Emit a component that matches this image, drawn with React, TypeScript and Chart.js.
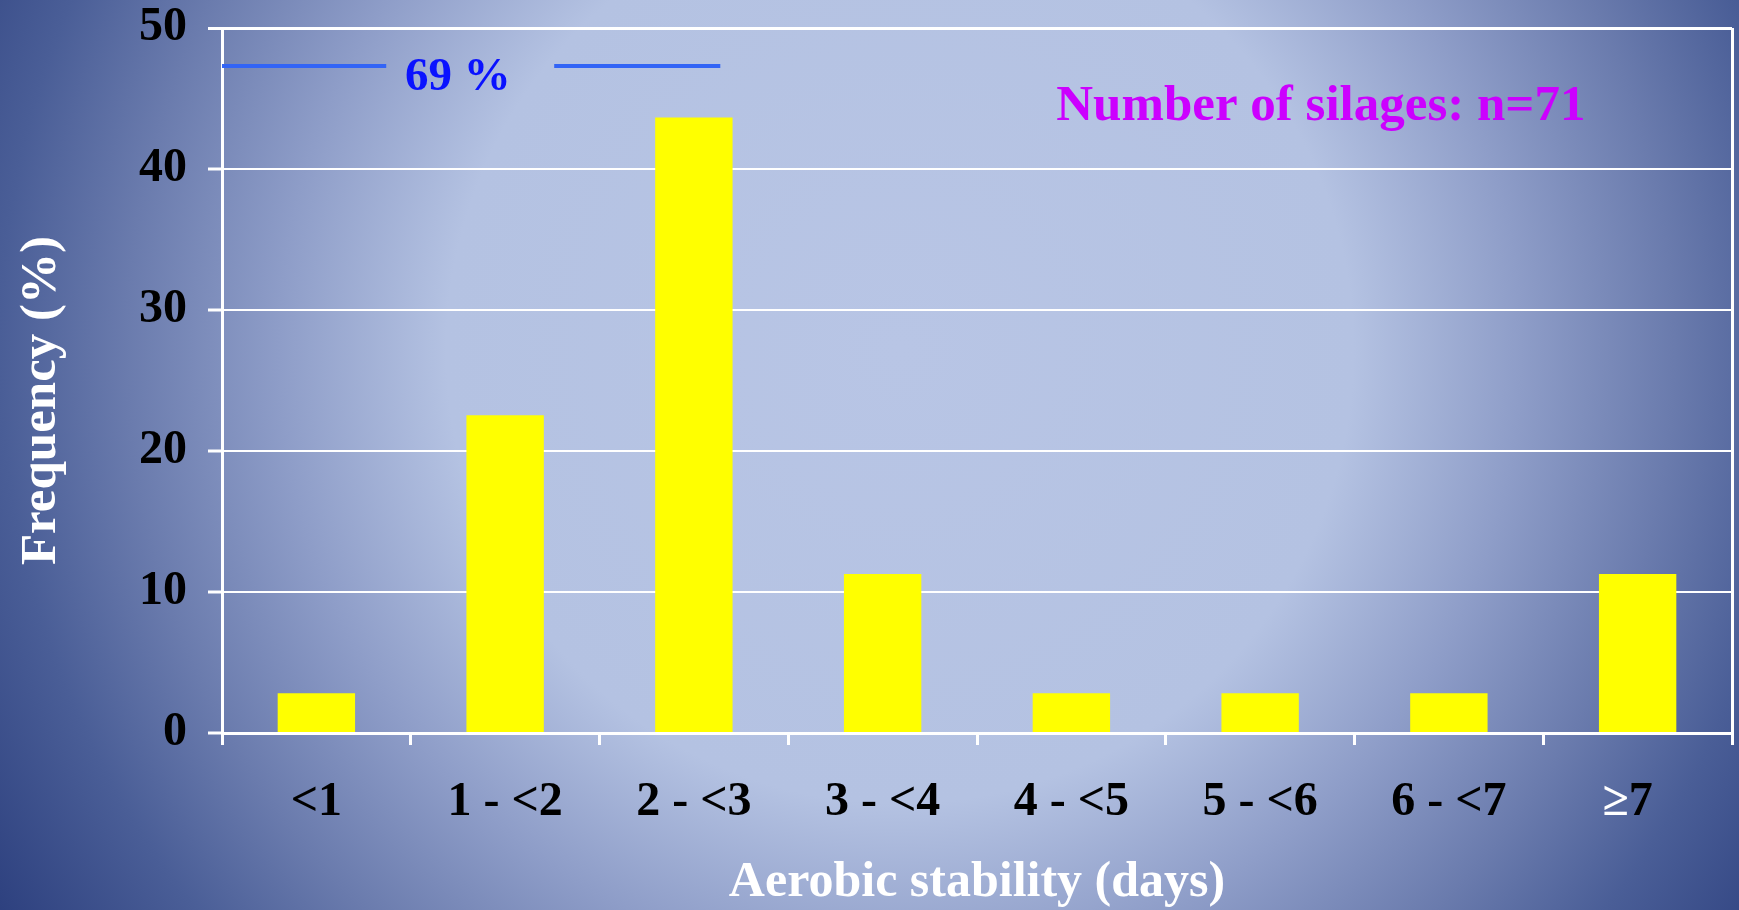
import { useEffect, useRef } from "react";
import { Chart, registerables } from "chart.js";

Chart.register(...registerables);

// Aerobic stability classes (days) and share of silages in each class (%)
const stabilityClasses = ["<1", "1 - <2", "2 - <3", "3 - <4", "4 - <5", "5 - <6", "6 - <7", "≥7"];
const frequencyPct = [2.82, 22.54, 43.66, 11.27, 2.82, 2.82, 2.82, 11.27];
const frequencyTicks = [0, 10, 20, 30, 40, 50];

// Cumulative share of the first three classes, shown as a bracket line
const shareLabel = "69 %";
const shareLevel = 47.3;

const sampleNote = "Number of silages: n=71";
const xTitle = "Aerobic stability (days)";
const yTitle = "Frequency (%)";

const W = 1739;
const H = 910;
const SERIF = '"Liberation Serif", "Times New Roman", serif';

const backgroundPlugin = {
  id: "slideBackground",
  beforeDraw(chart: any) {
    const { ctx, width, height } = chart;
    ctx.save();
    const cx = 900;
    const cy = 350;
    const g = ctx.createRadialGradient(cx, cy, 0, cx, cy, 1080);
    g.addColorStop(0, "#b8c5e5");
    g.addColorStop(0.42, "#b4c2e2");
    g.addColorStop(0.575, "#8e9dc8");
    g.addColorStop(0.717, "#6a7bad");
    g.addColorStop(0.833, "#4a5e97");
    g.addColorStop(1, "#2a3d7c");
    ctx.fillStyle = g;
    ctx.fillRect(0, 0, width, height);
    ctx.restore();
  },
};

const textPlugin = {
  id: "slideText",
  afterDraw(chart: any) {
    const { ctx } = chart;
    const x = chart.scales.x;
    const y = chart.scales.y;
    const step = (x.right - x.left) / stabilityClasses.length;
    const at = (u: number) => x.left + u * step;

    ctx.save();

    // bracket line with cumulative share
    const ly = y.getPixelForValue(shareLevel);
    ctx.strokeStyle = "#3264f6";
    ctx.lineWidth = 4;
    ctx.beginPath();
    ctx.moveTo(at(0), ly);
    ctx.lineTo(at(0.87), ly);
    ctx.moveTo(at(1.76), ly);
    ctx.lineTo(at(2.64), ly);
    ctx.stroke();

    ctx.textBaseline = "alphabetic";
    ctx.font = `bold 47px ${SERIF}`;
    ctx.fillStyle = "#0a12ff";
    ctx.textAlign = "center";
    ctx.fillText(shareLabel, at(1.25), y.getPixelForValue(45.6));

    // sample size note
    ctx.font = `bold 51px ${SERIF}`;
    ctx.fillStyle = "#cc00ff";
    ctx.textAlign = "left";
    ctx.fillText(sampleNote, at(4.42), y.getPixelForValue(43.5));

    // category labels
    ctx.font = `bold 48px ${SERIF}`;
    const base = x.top + 82;
    stabilityClasses.forEach((label, i) => {
      const cxp = x.getPixelForValue(i);
      if (label.startsWith("≥")) {
        const sign = "≥";
        const rest = label.slice(1);
        const wSign = ctx.measureText(sign).width;
        const wRest = ctx.measureText(rest).width;
        const left = cxp - (wSign + wRest) / 2 - 10;
        ctx.textAlign = "left";
        ctx.fillStyle = "#ffffff";
        ctx.fillText(sign, left, base);
        ctx.fillStyle = "#000000";
        ctx.fillText(rest, left + wSign, base);
      } else {
        ctx.textAlign = "center";
        ctx.fillStyle = "#000000";
        ctx.fillText(label, cxp, base);
      }
    });

    // axis titles
    ctx.fillStyle = "#ffffff";
    ctx.font = `bold 50px ${SERIF}`;
    ctx.textAlign = "center";
    ctx.fillText(xTitle, (x.left + x.right) / 2, 896);

    ctx.translate(55, (y.top + y.bottom) / 2 + 20);
    ctx.rotate(-Math.PI / 2);
    ctx.font = `bold 51px ${SERIF}`;
    ctx.fillText(yTitle, 0, 0);

    ctx.restore();
  },
};

export default function App() {
  const ref = useRef<HTMLCanvasElement>(null);

  useEffect(() => {
    document.body.style.margin = "0";
    document.body.style.overflow = "hidden";
    const canvas = ref.current;
    if (!canvas) return;
    const tickStep = frequencyTicks[1] - frequencyTicks[0];
    const chart = new Chart(canvas, {
      type: "bar",
      data: {
        labels: stabilityClasses,
        datasets: [
          {
            data: frequencyPct,
            backgroundColor: "#ffff00",
            borderWidth: 0,
            barPercentage: 0.41,
            categoryPercentage: 1,
          },
        ],
      },
      options: {
        responsive: false,
        animation: false,
        layout: { padding: { top: 28, right: 7, left: 0, bottom: 0 } },
        plugins: {
          legend: { display: false },
          tooltip: { enabled: false },
          title: { display: false },
        },
        scales: {
          x: {
            offset: true,
            grid: {
              offset: true,
              drawOnChartArea: true,
              drawTicks: true,
              color: (c: any) => (c.type === "scale" ? "#ffffff" : "rgba(0,0,0,0)"),
              lineWidth: 3,
              tickColor: "#ffffff",
              tickWidth: 3,
              tickLength: 12,
            },
            border: { color: "#ffffff", width: 3 },
            ticks: { display: false },
            afterFit: (s: any) => {
              s.height = 177;
              s.paddingLeft = 0;
              s.paddingRight = 0;
            },
          },
          y: {
            min: frequencyTicks[0],
            max: frequencyTicks[frequencyTicks.length - 1],
            ticks: {
              stepSize: tickStep,
              color: "#000000",
              padding: 21,
              font: { family: SERIF, size: 48, weight: "bold", lineHeight: 1.1 },
            },
            grid: {
              color: "#ffffff",
              lineWidth: (c: any) => (c.index === frequencyTicks.length - 1 ? 3 : 2),
              tickColor: "#ffffff",
              tickWidth: 3,
              tickLength: 14,
            },
            border: { color: "#ffffff", width: 3 },
            afterFit: (s: any) => {
              s.width = 222;
              s.paddingTop = 0;
              s.paddingBottom = 0;
            },
          },
        },
      },
      plugins: [backgroundPlugin, textPlugin],
    } as any);
    return () => chart.destroy();
  }, []);

  return (
    <div style={{ width: W, height: H }}>
      <canvas ref={ref} width={W} height={H} style={{ display: "block", width: W, height: H }} />
    </div>
  );
}
